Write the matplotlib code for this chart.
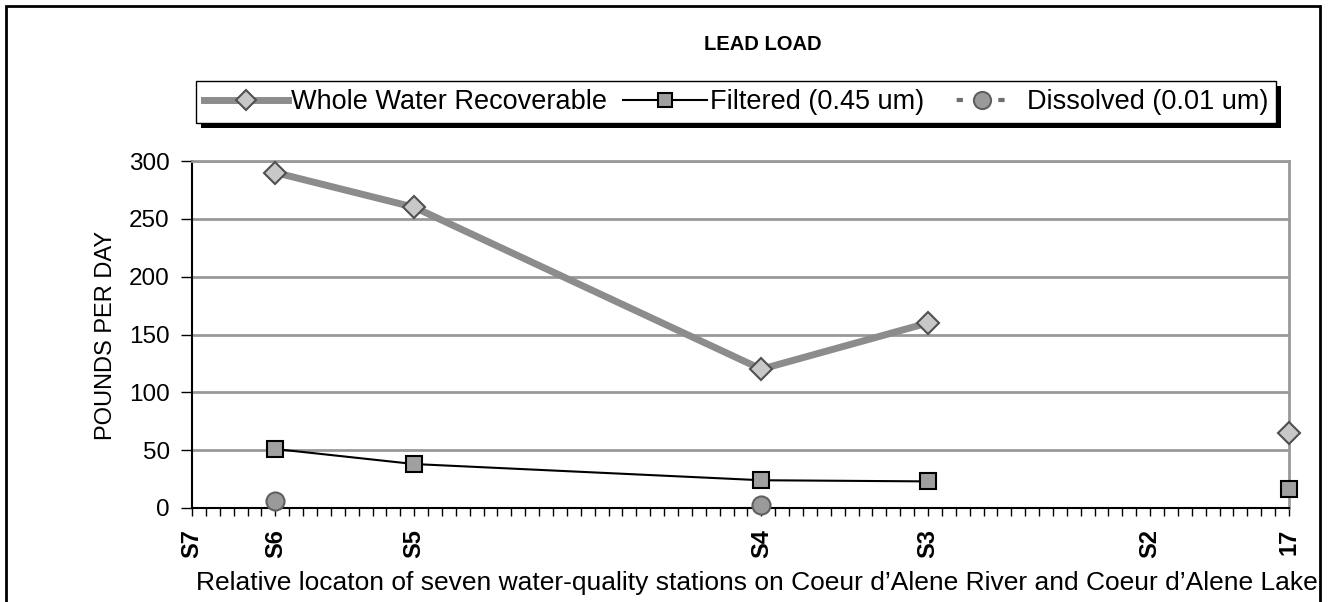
import numpy as np
import matplotlib
matplotlib.use("Agg")
import matplotlib.pyplot as plt
import matplotlib.patches as patches
from matplotlib.ticker import MultipleLocator

plt.rcParams['font.family'] = ['Liberation Sans', 'DejaVu Sans']

# station positions along the river (relative units)
stations = ['S7', 'S6', 'S5', 'S4', 'S3', 'S2', '17']
station_x = [0, 6, 16, 41, 53, 69, 79]

# loads, pounds per day (nan = no sample)
whole_water = [np.nan, 290, 260, 120, 160, np.nan, 65]
filtered = [np.nan, 51, 38, 24, 23, np.nan, 16]
dissolved = [np.nan, 6, np.nan, 3, np.nan, np.nan, np.nan]

W, H = 1336, 602
fig = plt.figure(figsize=(W / 100, H / 100), dpi=100)
ax = fig.add_axes([192 / W, 1 - 508 / H, (1289 - 192) / W, (508 - 161) / H])

ax.plot(station_x, whole_water, color='#8c8c8c', lw=5, marker='D', ms=11,
        mfc='#c8c8c8', mec='#505050', mew=1.5, label='Whole Water Recoverable',
        zorder=3, clip_on=False)
ax.plot(station_x, filtered, color='black', lw=1.5, marker='s', ms=11,
        mfc='#a0a0a0', mec='black', mew=1.5, label='Filtered (0.45 um)',
        zorder=4, clip_on=False)
ax.plot(station_x, dissolved, color='#6e6e6e', lw=3, ls=(6, (1.5, 8.5)), marker='o', ms=13,
        mfc='#9a9a9a', mec='#606060', mew=1.5, label='Dissolved (0.01 um)',
        zorder=5, clip_on=False)

ax.set_xlim(0, 79)
ax.set_ylim(0, 300)
ax.set_yticks(np.arange(0, 301, 50))
ax.set_xticks(station_x)
ax.set_xticklabels(stations, rotation=90, fontweight='bold', fontsize=17)
ax.xaxis.set_minor_locator(MultipleLocator(1))
ax.tick_params(axis='x', which='both', direction='out', length=6, width=1, pad=9)
ax.tick_params(axis='y', direction='out', length=8, width=1, labelsize=17.5, pad=8)
ax.grid(axis='y', color='#999999', lw=2)
ax.set_axisbelow(True)
for side in ['top', 'right']:
    ax.spines[side].set_color('#999999')
    ax.spines[side].set_linewidth(2)
ax.spines['left'].set_color('black')
ax.spines['bottom'].set_color('black')
ax.spines['bottom'].set_linewidth(1.5)
ax.spines['left'].set_linewidth(1.5)

fig.text(106 / W, 1 - 335 / H, 'POUNDS PER DAY', rotation=90, ha='center', va='center', fontsize=17)
fig.text(757 / W, 1 - 583 / H, "Relative locaton of seven water-quality stations on Coeur d\u2019Alene River and Coeur d\u2019Alene Lake",
         ha='center', va='center', fontsize=19)
fig.text(763 / W, 1 - 45 / H, 'LEAD LOAD', ha='center', va='center', fontsize=14.5, fontweight='bold')

leg = fig.legend(loc='center', bbox_to_anchor=(736 / W, 1 - 102 / H), ncol=3, fontsize=19.5,
                 handlelength=3.1, handletextpad=0.1, columnspacing=0.6, frameon=True,
                 fancybox=False, edgecolor='black', facecolor='white', framealpha=1,
                 borderpad=0.3, borderaxespad=0, markerscale=0.95)
leg.get_frame().set_linewidth(1)

fig.canvas.draw()
bb = leg.get_window_extent().transformed(fig.transFigure.inverted())
shadow = patches.Rectangle((bb.x0 + 5 / W, bb.y0 - 5 / H), bb.width, bb.height,
                           transform=fig.transFigure, facecolor='black', edgecolor='none', zorder=0)
fig.patches.append(shadow)

frame = patches.Rectangle((6 / W, -0.05), (1320 - 6) / W, 1 - 6 / H + 0.05,
                          transform=fig.transFigure, fill=False, edgecolor='black', lw=2)
fig.patches.append(frame)

fig.savefig('out.png', dpi=100)
